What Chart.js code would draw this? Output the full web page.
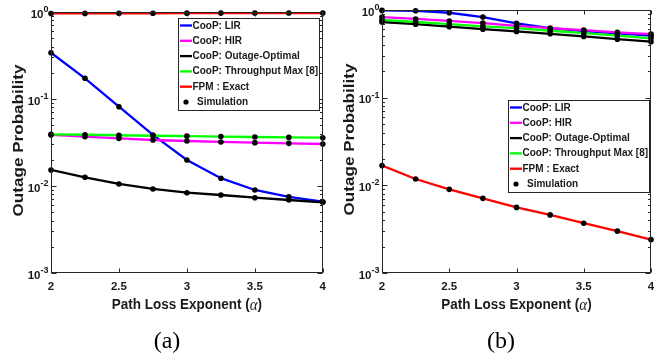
<!DOCTYPE html>
<html>
<head>
<meta charset="utf-8">
<script src="https://cdn.jsdelivr.net/npm/chart.js@4.4.0/dist/chart.umd.min.js"></script>
<style>
  html, body { margin: 0; padding: 0; background: #fff; }
  #wrap { position: relative; width: 667px; height: 362px; overflow: hidden; }
  .panel { position: absolute; top: 0; }
</style>
</head>
<body>
<div id="wrap">
  <div class="panel" style="left:0"><canvas id="chartA" width="333" height="362"></canvas></div>
  <div class="panel" style="left:333px"><canvas id="chartB" width="334" height="362"></canvas></div>
</div>
<script>
// path loss exponent values (x axis)
const alpha = [2, 2.25, 2.5, 2.75, 3, 3.25, 3.5, 3.75, 4];

const xTicks = [2, 2.5, 3, 3.5, 4];
const xTickLabels = ["2", "2.5", "3", "3.5", "4"];
const yDecades = [1e-3, 1e-2, 1e-1, 1];
const yTickExponents = ["-3", "-2", "-1", "0"];

const seriesNames = ["CooP: LIR", "CooP: HIR", "CooP: Outage-Optimal", "CooP: Throughput Max [8]", "FPM : Exact"];
const simName = "Simulation";

// panel (a)
const lirA = [0.34, 0.173, 0.0816, 0.0386, 0.0199, 0.0123, 0.009, 0.0075, 0.0066];
const hirA = [0.0386, 0.0369, 0.0353, 0.0338, 0.0329, 0.0321, 0.0315, 0.0309, 0.0304];
const optA = [0.0153, 0.0126, 0.01055, 0.00925, 0.00838, 0.00788, 0.00734, 0.0069, 0.0065];
const tputA = [0.0393, 0.0388, 0.0383, 0.0378, 0.0374, 0.037, 0.0366, 0.0362, 0.0359];
const fpmA = [0.962, 0.964, 0.966, 0.968, 0.97, 0.971, 0.972, 0.973, 0.974];

// panel (b)
const lirB = [0.99, 0.98, 0.93, 0.83, 0.705, 0.62, 0.575, 0.54, 0.51];
const hirB = [0.83, 0.79, 0.75, 0.71, 0.66, 0.62, 0.59, 0.556, 0.53];
const optB = [0.73, 0.69, 0.645, 0.605, 0.57, 0.535, 0.5, 0.465, 0.435];
const tputB = [0.77, 0.73, 0.69, 0.65, 0.62, 0.58, 0.545, 0.51, 0.475];
const fpmB = [0.0168, 0.0118, 0.009, 0.0071, 0.0056, 0.0046, 0.0037, 0.003, 0.0024];

const lineColors = ["#0000ff", "#ff00ff", "#000000", "#00ff00", "#ff0000"];
const SANS = "'Liberation Sans', Arial, sans-serif";
const SERIF = "'Liberation Serif', 'Times New Roman', serif";

const toPts = (vals) => alpha.map((x, i) => ({ x, y: vals[i] }));

const buildDatasets = (seriesList) => {
  const ds = [];
  seriesList.forEach((vals, i) => {
    ds.push({
      label: seriesNames[i],
      data: toPts(vals),
      borderColor: lineColors[i],
      borderWidth: 2.3,
      pointRadius: 0,
      tension: 0,
      order: 10 - i,
    });
  });
  // simulation markers on top of all curves
  seriesList.forEach((vals) => {
    ds.push({
      label: simName,
      data: toPts(vals),
      showLine: false,
      pointRadius: 2.8,
      pointBackgroundColor: "#000",
      pointBorderColor: "#000",
      pointBorderWidth: 0,
      clip: false,
      order: 0,
    });
  });
  return ds;
};

const decor = {
  id: "decor",
  afterDraw(chart, args, o) {
    const { ctx, chartArea: a, scales } = chart;
    const x = scales.x, y = scales.y;
    const L = Math.round(a.left) + 0.5, R = Math.round(a.right) - 0.5;
    const T = Math.round(a.top) + 0.5, B = Math.round(a.bottom) - 0.5;
    ctx.save();

    // axes box
    ctx.strokeStyle = "#262626";
    ctx.lineWidth = 1;
    ctx.strokeRect(L, T, R - L, B - T);

    // inward tick marks
    ctx.beginPath();
    xTicks.forEach((v) => {
      const px = Math.round(x.getPixelForValue(v)) + 0.5;
      ctx.moveTo(px, B); ctx.lineTo(px, B - 4);
      ctx.moveTo(px, T); ctx.lineTo(px, T + 4);
    });
    yDecades.forEach((d, i) => {
      const py = Math.round(y.getPixelForValue(d)) + 0.5;
      ctx.moveTo(L, py); ctx.lineTo(L + 5, py);
      ctx.moveTo(R, py); ctx.lineTo(R - 5, py);
      if (i < yDecades.length - 1) {
        for (let k = 2; k <= 9; k++) {
          const pm = Math.round(y.getPixelForValue(k * d)) + 0.5;
          ctx.moveTo(L, pm); ctx.lineTo(L + 2.5, pm);
          ctx.moveTo(R, pm); ctx.lineTo(R - 2.5, pm);
        }
      }
    });
    ctx.stroke();

    // y tick labels 10^n
    ctx.fillStyle = "#1a1a1a";
    ctx.textAlign = "right";
    ctx.textBaseline = "middle";
    yDecades.forEach((d, i) => {
      const py = y.getPixelForValue(d);
      ctx.font = "bold 9px " + SANS;
      const ex = yTickExponents[i];
      const ew = ctx.measureText(ex).width;
      ctx.fillText(ex, a.left - 2.5, py - 2.5);
      ctx.font = "bold 11.5px " + SANS;
      ctx.fillText("10", a.left - 2.5 - ew, py + 2.5);
    });

    // y axis title
    ctx.save();
    ctx.translate(a.left - 31.5, (a.top + a.bottom) / 2 - 2);
    ctx.rotate(-Math.PI / 2);
    ctx.scale(1.22, 1);
    ctx.textAlign = "center";
    ctx.font = "bold 14px " + SANS;
    ctx.fillText("Outage Probability", 0, 0);
    ctx.restore();

    // x axis title with italic alpha
    const parts = [
      ["Path Loss Exponent (", "bold 13.5px " + SANS],
      ["\u03b1", "italic 15px " + SERIF],
      [")", "bold 13.5px " + SANS],
    ];
    let tw = 0;
    parts.forEach((p) => { ctx.font = p[1]; tw += ctx.measureText(p[0]).width; });
    ctx.save();
    ctx.translate(0, a.bottom + 32);
    ctx.scale(1, 1.15);
    ctx.textAlign = "left";
    let cx = (a.left + a.right) / 2 - tw / 2;
    parts.forEach((p) => {
      ctx.font = p[1];
      ctx.fillText(p[0], cx, 0);
      cx += ctx.measureText(p[0]).width;
    });
    ctx.restore();

    // panel label
    ctx.textAlign = "center";
    ctx.font = "24px " + SERIF;
    ctx.fillStyle = "#000";
    ctx.fillText(o.panel, o.panelX, 342);

    // legend box
    const lg = o.legend;
    const w = 142, h = 93;
    ctx.fillStyle = "#fff";
    ctx.fillRect(lg.left, lg.top, w, h);
    ctx.strokeStyle = "#262626";
    ctx.lineWidth = 1;
    ctx.strokeRect(lg.left + 0.5, lg.top + 0.5, w - 1, h - 1);
    ctx.textAlign = "left";
    ctx.textBaseline = "middle";
    const legendText = (txt, tx, ty) => {
      ctx.save();
      ctx.translate(tx, ty);
      ctx.scale(1, 1.1);
      ctx.font = "bold 10px " + SANS;
      ctx.fillStyle = "#1a1a1a";
      ctx.fillText(txt, 0, 0);
      ctx.restore();
    };
    seriesNames.forEach((name, i) => {
      const ry = lg.top + 7.5 + i * 15.3;
      ctx.strokeStyle = lineColors[i];
      ctx.lineWidth = 2.3;
      ctx.beginPath();
      ctx.moveTo(lg.left + 2, ry);
      ctx.lineTo(lg.left + 14, ry);
      ctx.stroke();
      legendText(name, lg.left + 14.5, ry);
    });
    const sy = lg.top + 7.5 + 5 * 15.3;
    ctx.fillStyle = "#000";
    ctx.beginPath();
    ctx.arc(lg.left + 8, sy, 2.6, 0, Math.PI * 2);
    ctx.fill();
    legendText(simName, lg.left + 19, sy);

    ctx.restore();
  },
};

const makeChart = (id, seriesList, cfg) => {
  const ctx = document.getElementById(id).getContext("2d");
  return new Chart(ctx, {
    type: "line",
    data: { datasets: buildDatasets(seriesList) },
    plugins: [decor],
    options: {
      responsive: false,
      animation: false,
      events: [],
      layout: { padding: { left: 0, right: cfg.padRight, top: cfg.padTop, bottom: 45 } },
      plugins: {
        legend: { display: false },
        tooltip: { enabled: false },
        decor: { panel: cfg.panel, panelX: cfg.panelX, legend: cfg.legend },
      },
      scales: {
        x: {
          type: "linear",
          min: 2,
          max: 4,
          afterBuildTicks: (s) => { s.ticks = xTicks.map((v) => ({ value: v })); },
          afterFit: (s) => { s.height = 44; },
          grid: { display: false, drawTicks: false },
          border: { display: false },
          ticks: {
            padding: 7,
            color: "#1a1a1a",
            font: { family: SANS, size: 11.5, weight: "bold" },
            maxRotation: 0,
            callback: (v) => { const i = xTicks.indexOf(v); return i >= 0 ? xTickLabels[i] : ""; },
          },
        },
        y: {
          type: "logarithmic",
          min: 1e-3,
          max: 1,
          afterFit: (s) => { s.width = cfg.yWidth; },
          grid: { display: false, drawTicks: false },
          border: { display: false },
          ticks: { display: false },
        },
      },
    },
  });
};

makeChart("chartA", [lirA, hirA, optA, tputA, fpmA], {
  panel: "(a)", panelX: 167, yWidth: 51, padRight: 9, padTop: 12,
  legend: { left: 178, top: 18 },
});
makeChart("chartB", [lirB, hirB, optB, tputB, fpmB], {
  panel: "(b)", panelX: 168, yWidth: 49, padRight: 16, padTop: 10,
  legend: { left: 175, top: 100 },
});
</script>
</body>
</html>
